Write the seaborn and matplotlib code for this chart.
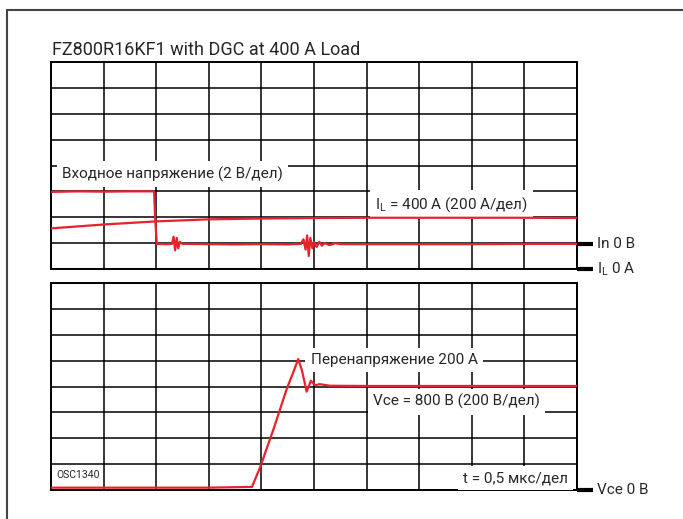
import matplotlib
matplotlib.use("Agg")
import matplotlib.pyplot as plt
import seaborn as sns
import pandas as pd
from matplotlib.lines import Line2D

# ---- data (time in divisions of 0.5 us, amplitude in divisions) ----
in_t = [0, 0.5, 1.0, 1.5, 1.96, 1.98, 2.01, 2.2, 2.3, 2.33, 2.36, 2.39, 2.42, 2.45,
        2.5, 3.0, 3.5, 4.0, 4.5, 4.75, 4.8, 4.84, 4.87, 4.9, 4.93, 4.97, 5.0, 5.05,
        5.1, 5.15, 5.2, 5.3, 5.4, 5.5, 6, 7, 8, 9, 10]
in_v = [2.98, 3.0, 2.99, 3.0, 3.0, 2.0, 0.97, 0.96, 0.97, 1.25, 0.72, 1.2, 0.8, 1.05,
        0.97, 0.96, 0.95, 0.96, 0.95, 0.97, 1.15, 0.75, 1.3, 0.5, 1.2, 0.8, 1.05, 0.85,
        1.05, 0.9, 1.0, 0.92, 1.0, 0.96, 0.96, 0.96, 0.96, 0.97, 0.97]

il_t = [0, 1, 2, 2.5, 3, 4, 5, 6, 7, 8, 9, 10]
il_v = [1.57, 1.72, 1.84, 1.88, 1.92, 1.95, 1.97, 1.98, 1.98, 1.98, 1.98, 1.97]

vce_t = [0, 1, 2, 3, 3.82, 3.9, 3.99, 4.1, 4.23, 4.36, 4.48, 4.61, 4.70, 4.77,
         4.86, 4.94, 5.02, 5.11, 5.3, 6, 7, 8, 9, 10]
vce_v = [0.09, 0.09, 0.09, 0.09, 0.12, 0.51, 0.95, 1.6, 2.35, 3.15, 3.9, 4.57, 5.06,
         4.63, 3.8, 4.22, 4.05, 4.09, 4.03, 4.02, 4.02, 4.02, 4.02, 4.02]

title = "FZ800R16KF1 with DGC at 400 A Load"
lbl_in = "Входное напряжение (2 В/дел)"
lbl_il = "I$_{\\mathregular{L}}$ = 400 А (200 А/дел)"
lbl_over = "Перенапряжение 200 А"
lbl_vce = "Vce = 800 В (200 В/дел)"
lbl_t = "t = 0,5 мкс/дел"
lbl_osc = "OSC1340"
ref_in = "In 0 В"
ref_il = "I$_{\\mathregular{L}}$ 0 А"
ref_vce = "Vce 0 В"

RED = "#e8212b"
W, H = 683, 519

sns.set_theme(style="white")
plt.rcParams["font.family"] = ["Roboto", "DejaVu Sans"]
plt.rcParams["mathtext.fontset"] = "custom"
plt.rcParams["mathtext.rm"] = "Roboto"

fig = plt.figure(figsize=(W / 100, H / 100), dpi=100)
fig.patch.set_facecolor("white")

def px_rect(x0, y0, x1, y1):
    return [x0 / W, 1 - y1 / H, (x1 - x0) / W, (y1 - y0) / H]

ax1 = fig.add_axes(px_rect(51, 62, 577, 269))
ax2 = fig.add_axes(px_rect(51, 283, 577, 490))

for ax in (ax1, ax2):
    ax.set_xlim(0, 10)
    ax.set_ylim(0, 8)
    ax.set_xticks(range(11))
    ax.set_yticks(range(9))
    ax.tick_params(length=0, labelbottom=False, labelleft=False)
    ax.grid(True, color="black", linewidth=1.1)
    for s in ax.spines.values():
        s.set_color("black")
        s.set_linewidth(1.4)

df_in = pd.DataFrame({"t": in_t, "v": in_v})
df_il = pd.DataFrame({"t": il_t, "v": il_v})
df_vce = pd.DataFrame({"t": vce_t, "v": vce_v})

kw = dict(color=RED, linewidth=1.6, estimator=None, sort=False, zorder=6)
sns.lineplot(data=df_in, x="t", y="v", ax=ax1, **kw)
sns.lineplot(data=df_il, x="t", y="v", ax=ax1, **kw)
sns.lineplot(data=df_vce, x="t", y="v", ax=ax2, **kw)
for ax in (ax1, ax2):
    ax.set_xlabel("")
    ax.set_ylabel("")

box = dict(facecolor="white", edgecolor="none", boxstyle="square,pad=0.35")
fs = 11
ax1.text(0.21, 3.67, lbl_in, fontsize=fs, va="center", ha="left", bbox=box, zorder=5)
ax1.text(6.16, 2.5, lbl_il, fontsize=fs, va="center", ha="left", bbox=box, zorder=5)
ax2.text(4.94, 5.02, lbl_over, fontsize=fs, va="center", ha="left", bbox=box, zorder=5)
ax2.text(6.12, 3.41, lbl_vce, fontsize=fs, va="center", ha="left", bbox=box, zorder=5)
ax2.text(9.83, 0.46, lbl_t, fontsize=fs, va="center", ha="right", bbox=box, zorder=5)
ax2.text(0.1, 0.58, lbl_osc, fontsize=7.5, va="center", ha="left", zorder=5)

# zero reference markers on the right
for ax, y0, lbl in ((ax1, 0.97, ref_in), (ax1, 0.0, ref_il), (ax2, 0.0, ref_vce)):
    ax.plot([10, 10.3], [y0, y0], color="black", linewidth=3, clip_on=False, solid_capstyle="butt")
    ax.text(10.38, y0, lbl, fontsize=fs, va="center", ha="left", clip_on=False)

fig.text(52 / W, 1 - 55 / H, title, fontsize=13, ha="left", va="baseline")

# outer frame (top and left edges)
fig.add_artist(Line2D([7 / W, 1.0], [1 - 10 / H, 1 - 10 / H], color="#444444", linewidth=1.5))
fig.add_artist(Line2D([7 / W, 7 / W], [1 - 10 / H, 0.0], color="#444444", linewidth=1.5))

fig.savefig("out.png", dpi=100)
